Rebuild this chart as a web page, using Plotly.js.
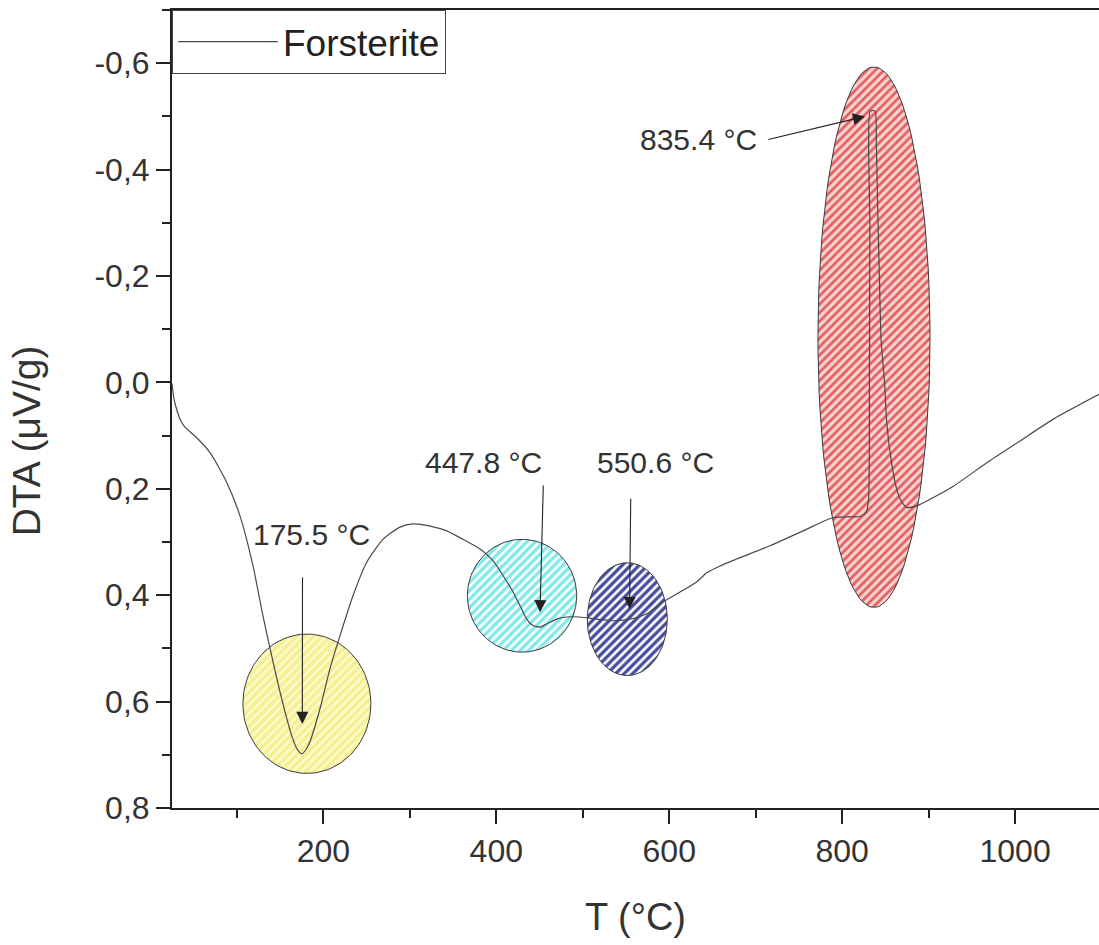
<!DOCTYPE html>
<html>
<head>
<meta charset="utf-8">
<script src="https://cdn.plot.ly/plotly-3.0.1.min.js"></script>
<style>html,body{margin:0;padding:0;background:#fff;}#chart{width:1099px;height:945px;}</style>
</head>
<body>
<div id="chart"></div>
<script>
// ---- data ----
var temperature = [25, 27, 30.4, 35.2, 40, 53.6, 69, 88.3, 103.6, 118.7, 130.2, 140.3, 151.9, 163.4, 169.6, 175, 180, 184.6, 196.2, 207.7, 219.3, 234.3, 250.2, 269, 288.7, 303.7, 323.4, 342.7, 361.5, 381.2, 396.2, 407.8, 419.4, 427.5, 435.2, 442.5, 450.6, 458.3, 469.9, 481.5, 496.8, 516.2, 535, 554.7, 574, 592.8, 612.5, 631.8, 643.4, 658.8, 678, 716.6, 755, 789.8, 820.7, 827.6, 830.5, 831.5, 832, 832.5, 838, 839.5, 841, 843, 845, 849, 851.5, 857, 863, 868, 874.7, 886.2, 928.6, 967.2, 1005.7, 1044.2, 1097];
var dta = [0.002, 0.028, 0.051, 0.072, 0.084, 0.104, 0.132, 0.188, 0.251, 0.345, 0.439, 0.514, 0.595, 0.664, 0.689, 0.698, 0.690, 0.675, 0.613, 0.538, 0.476, 0.401, 0.338, 0.295, 0.272, 0.266, 0.27, 0.279, 0.295, 0.313, 0.335, 0.363, 0.394, 0.42, 0.445, 0.457, 0.46, 0.454, 0.445, 0.441, 0.441, 0.445, 0.448, 0.445, 0.435, 0.413, 0.394, 0.375, 0.358, 0.345, 0.332, 0.307, 0.279, 0.254, 0.252, 0.245, 0.22, 0.0, -0.3, -0.51, -0.51, -0.45, -0.33, -0.2, -0.08, 0.0, 0.075, 0.15, 0.2, 0.222, 0.235, 0.232, 0.195, 0.151, 0.110, 0.069, 0.0225];
var seriesName = 'Forsterite';

var xTickVals = [200, 400, 600, 800, 1000];
var xTickText = ['200', '400', '600', '800', '1000'];
var yTickVals = [-0.6, -0.4, -0.2, 0.0, 0.2, 0.4, 0.6, 0.8];
var yTickText = ['-0,6', '-0,4', '-0,2', '0,0', '0,2', '0,4', '0,6', '0,8'];
var xTitle = 'T (°C)';
var yTitle = 'DTA (μV/g)';

// highlighted peak regions (ellipses, data units)
var regionCx = [181, 429.8, 551.5, 836.8];
var regionCy = [0.604, 0.401, 0.445, -0.085];
var regionRx = [74, 63.2, 46.3, 64.8];
var regionRy = [0.131, 0.106, 0.106, 0.508];
var regionBg = ['#f5f08c', '#80e9ea', '#474c9c', '#f8d2cf'];
var regionFg = ['#fcf9cf', '#ffffff', '#ffffff', '#e25d60'];

// peak annotations
var peakLabels = ['175.5 °C', '447.8 °C', '550.6 °C', '835.4 °C'];
var labelX = [186.6, 384.7, 584.5, 633.9];
var labelY = [0.285, 0.150, 0.150, -0.456];
var arrowTailX = [175.9, 454.4, 555.5, 712.8];
var arrowTailY = [0.364, 0.191, 0.216, -0.456];
var arrowTipX = [175.7, 450.6, 554.1, 826.4];
var arrowTipY = [0.642, 0.432, 0.426, -0.500];

// ---- build ----
var FONT = 'Liberation Sans, Arial, sans-serif';
var traces = [];
for (var k = 0; k < regionCx.length; k++) {
  var ex = [], ey = [];
  for (var i = 0; i <= 120; i++) {
    var t = 2 * Math.PI * i / 120;
    ex.push(regionCx[k] + regionRx[k] * Math.cos(t));
    ey.push(regionCy[k] + regionRy[k] * Math.sin(t));
  }
  traces.push({
    x: ex, y: ey, type: 'scatter', mode: 'lines', fill: 'toself',
    line: {color: '#3a3a3a', width: 1},
    fillcolor: regionBg[k],
    fillpattern: {shape: '/', bgcolor: regionBg[k], fgcolor: regionFg[k], size: 6, solidity: 0.45},
    showlegend: false, hoverinfo: 'skip'
  });
}
traces.push({
  x: temperature, y: dta, type: 'scatter', mode: 'lines', name: seriesName,
  line: {color: '#4a4a4a', width: 1.2, shape: 'spline', smoothing: 0.6}
});

var annotations = [];
for (var j = 0; j < peakLabels.length; j++) {
  annotations.push({
    x: labelX[j], y: labelY[j], xref: 'x', yref: 'y', text: peakLabels[j],
    showarrow: false, font: {family: FONT, size: 30, color: '#333'}
  });
  annotations.push({
    x: arrowTipX[j], y: arrowTipY[j], ax: arrowTailX[j], ay: arrowTailY[j],
    xref: 'x', yref: 'y', axref: 'x', ayref: 'y', text: '',
    showarrow: true, arrowhead: 2, arrowsize: 2.2, arrowwidth: 1.1, arrowcolor: '#222'
  });
}
// y-axis title (placed as in the reference, slightly below the plot centre)
annotations.push({
  xref: 'paper', yref: 'paper', x: -0.156, y: 0.46, xanchor: 'center', yanchor: 'middle',
  text: yTitle, textangle: -90, showarrow: false,
  font: {family: FONT, size: 39, color: '#333'}
});

var layout = {
  width: 1099, height: 945,
  margin: {l: 172, r: 0, t: 10, b: 137},
  paper_bgcolor: '#fff', plot_bgcolor: '#fff',
  font: {family: FONT, color: '#333'},
  showlegend: true,
  legend: {x: 0, y: 1, xanchor: 'left', yanchor: 'top', bgcolor: '#fff',
           bordercolor: '#444', borderwidth: 1, itemwidth: 100,
           font: {family: FONT, size: 37, color: '#222'}},
  xaxis: {
    range: [25, 1097], showgrid: false, zeroline: false,
    showline: true, linecolor: '#222', linewidth: 2, mirror: true,
    ticks: 'outside', ticklen: 14, tickwidth: 2, tickcolor: '#222',
    tickmode: 'array', tickvals: xTickVals, ticktext: xTickText,
    tickfont: {family: FONT, size: 32, color: '#333'},
    minor: {tickmode: 'linear', tick0: 0, dtick: 100, ticks: 'outside', ticklen: 8, tickwidth: 2, tickcolor: '#222'},
    title: {text: xTitle, font: {family: FONT, size: 38, color: '#333'}, standoff: 35}
  },
  yaxis: {
    range: [0.8, -0.7], showgrid: false, zeroline: false,
    showline: true, linecolor: '#222', linewidth: 2,
    ticks: 'outside', ticklen: 14, tickwidth: 2, tickcolor: '#222',
    tickmode: 'array', tickvals: yTickVals, ticktext: yTickText,
    tickfont: {family: FONT, size: 32, color: '#333'},
    minor: {tickmode: 'linear', tick0: 0, dtick: 0.1, ticks: 'outside', ticklen: 8, tickwidth: 2, tickcolor: '#222'}
  },
  annotations: annotations
};

Plotly.newPlot('chart', traces, layout, {displayModeBar: false, staticPlot: true});
</script>
</body>
</html>
